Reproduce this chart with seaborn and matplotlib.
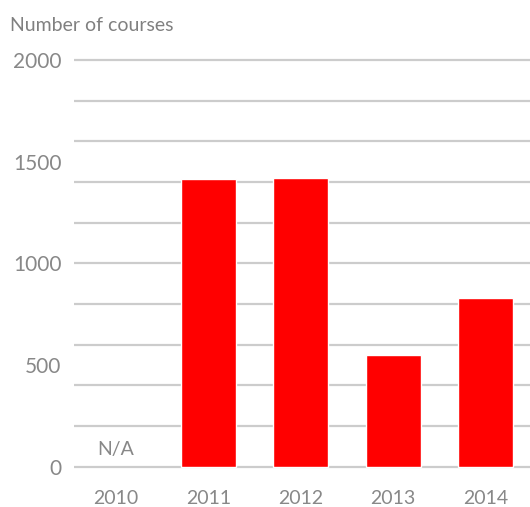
import matplotlib
matplotlib.use("Agg")
import matplotlib.pyplot as plt
import seaborn as sns
import numpy as np
import pandas as pd

years = ["2010", "2011", "2012", "2013", "2014"]
courses = [np.nan, 1415, 1418, 550, 832]
y_ticks = [0, 500, 1000, 1500, 2000]
grid_levels = list(range(0, 2001, 200))

sns.set_theme(style="white")
plt.rcParams["font.family"] = ["Lato", "DejaVu Sans"]

df = pd.DataFrame({"year": years, "courses": courses})

fig = plt.figure(figsize=(5.30, 5.07), dpi=100)
ax = fig.add_axes([74 / 530, 1 - 468.7 / 507, 1 - 74 / 530, (468.7 - 58.0) / 507])

# light horizontal rules every 200 courses
for g in grid_levels:
    ax.axhline(g, color="#cccccc", lw=1.6, zorder=0)

sns.barplot(data=df, x="year", y="courses", order=years, color="#ff0000",
            saturation=1, width=0.595, ax=ax, zorder=2)

ax.set_xlim(-0.455, 4.48)
ax.set_ylim(-10, 2010)
ax.set_yticks(y_ticks)
ax.set_yticklabels([str(t) for t in y_ticks])
ax.set_xlabel("")
ax.set_ylabel("")
for s in ax.spines.values():
    s.set_visible(False)
ax.tick_params(axis="y", length=0, pad=9, labelsize=15, labelcolor="#888888")
ax.tick_params(axis="x", length=0, pad=15, labelsize=14, labelcolor="#888888")

ax.text(0, 82, "N/A", ha="center", va="center", fontsize=14, color="#888888")

fig.text(10 / 530, 1 - 30.7 / 507, "Number of courses", ha="left", va="baseline",
         fontsize=14, color="#808080")

fig.savefig("out.png", dpi=100)
